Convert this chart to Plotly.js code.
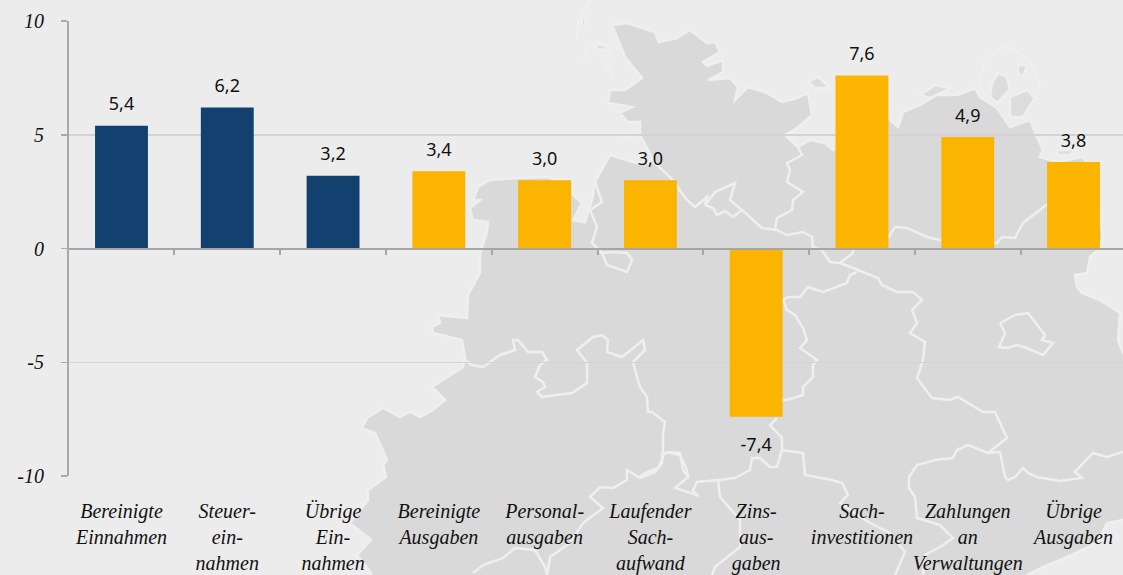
<!DOCTYPE html>
<html><head><meta charset="utf-8">
<script src="https://cdn.plot.ly/plotly-3.0.0.min.js"></script>
<style>html,body{margin:0;padding:0;background:#ececec;overflow:hidden}#c{width:1123px;height:575px}</style>
</head><body><div id="c"></div>
<script>
// ---------- chart data ----------
const categories = ['Bereinigte<br>Einnahmen','Steuer-<br>ein-<br>nahmen','Übrige<br>Ein-<br>nahmen','Bereinigte<br>Ausgaben','Personal-<br>ausgaben','Laufender<br>Sach-<br>aufwand','Zins-<br>aus-<br>gaben','Sach-<br>investitionen','Zahlungen<br>an<br>Verwaltungen','Übrige<br>Ausgaben'];
const values = [5.4,6.2,3.2,3.4,3.0,3.0,-7.4,7.6,4.9,3.8];
const barColors = ['#12406f','#12406f','#12406f','#fbb500','#fbb500','#fbb500','#fbb500','#fbb500','#fbb500','#fbb500'];
const yTicks = [-10,-5,0,5,10];

// ---------- decorative background map (picture pixels) ----------
const land = [[612,25],[627,23],[655,32],[659,42],[677,38],[690,30],[707,43],[715,42],[720,52],[703,62],[707,66],[723,60],[723,72],[708,80],[730,78],[738,87],[735,100],[748,87],[767,93],[782,102],[797,98],[808,93],[812,115],[797,128],[785,135],[798,147],[810,140],[825,143],[833,150],[888,118],[898,127],[903,112],[920,105],[937,95],[957,95],[975,88],[980,97],[997,108],[1010,127],[1030,120],[1037,137],[1043,150],[1040,157],[1057,162],[1083,157],[1092,173],[1100,217],[1103,237],[1100,248],[1090,257],[1087,273],[1075,275],[1077,287],[1082,293],[1100,300],[1120,313],[1118,340],[1123,353],[1130,353],[1130,520],[1123,520],[1107,523],[1097,543],[1067,557],[1043,567],[1027,575],[1027,580],[371,580],[371,573],[357,555],[371,540],[350,523],[368,500],[368,490],[386,477],[383,465],[387,460],[375,433],[362,428],[367,418],[383,408],[400,417],[410,412],[420,417],[433,410],[445,400],[432,387],[463,367],[465,357],[462,340],[433,333],[432,327],[440,323],[438,315],[467,318],[468,295],[480,273],[480,253],[487,232],[488,222],[473,220],[470,208],[480,200],[473,200],[478,187],[490,180],[517,178],[550,177],[571,193],[582,203],[573,220],[585,222],[592,200],[595,182],[610,155],[637,163],[655,163],[640,135],[622,138],[640,135],[640,122],[628,122],[620,113],[632,107],[608,103],[610,90],[625,90],[642,78],[625,57]];
const islands = [[[808,82],[818,77],[830,88],[815,88]],[[992,83],[998,73],[1007,77],[1010,90],[997,103],[990,97]],[[1018,65],[1027,65],[1023,77],[1018,73]],[[1010,97],[1027,90],[1035,98],[1023,117],[1010,117]],[[1057,150],[1077,150],[1070,155],[1057,155]],[[920,95],[935,85],[950,88],[930,98]],[[595,44],[607,46],[605,50],[597,49]],[[582,18],[585,18],[586,26],[582,26]]];
const borders = [
 [[655,163],[670,177],[687,200],[695,207],[707,197],[705,205]],
 [[705,205],[715,192],[735,183],[730,200],[742,210],[733,217],[725,211],[717,215],[713,208],[705,205]],
 [[742,210],[753,220],[762,228],[777,230],[787,235],[803,232],[812,237],[813,247],[822,250],[830,262],[840,263],[853,253],[853,248]],
 [[775,229],[777,218],[792,210],[793,200],[803,192],[787,182],[790,170],[787,163],[802,155],[798,147],[785,135]],
 [[888,238],[895,227],[907,228],[927,237],[940,240],[997,243],[1002,237],[1015,238],[1023,223],[1037,212],[1060,195]],
 [[840,263],[858,270],[878,278],[882,285],[897,292],[913,292],[922,300],[912,310],[917,323],[910,333],[925,342],[923,360],[917,378],[932,398],[950,400],[958,397],[983,412],[995,412],[1000,423],[1007,438],[988,453],[968,445],[957,450],[953,458],[935,460],[917,465],[909,477],[909,488],[915,497],[917,518],[940,525],[953,538],[940,547],[925,555],[923,575]],
 [[988,453],[1000,452],[1005,477],[1008,480],[1015,477],[1023,468],[1028,473],[1037,477],[1060,481],[1082,478],[1075,472],[1093,453],[1107,457],[1123,452]],
 [[1000,323],[1015,315],[1028,313],[1045,335],[1042,340],[1053,343],[1043,355],[1027,348],[1017,345],[1007,348],[999,347],[1005,333],[1000,323]],
 [[857,272],[850,275],[847,283],[823,292],[808,287],[800,297],[788,297],[783,300],[787,310],[795,315],[803,328],[807,340],[800,348],[817,360],[813,365],[813,377],[803,387],[803,395],[787,400],[780,400]],
 [[777,418],[770,425],[782,438],[782,450],[777,467],[770,467],[760,458],[752,458],[750,470],[735,478],[718,480],[697,482],[693,490],[697,495],[675,488],[688,477],[683,470],[680,453],[668,452],[662,455],[662,463],[655,472],[640,478],[627,470],[627,480],[613,488],[600,487],[590,497],[603,508],[583,523],[570,543],[550,557],[547,575]],
 [[782,450],[803,453],[805,475],[832,480],[842,483],[848,495],[840,503],[870,523],[890,533],[905,552],[895,575]],
 [[718,480],[720,497],[740,520],[740,547],[715,567],[712,575]],
 [[463,358],[472,365],[483,367],[500,355],[515,350],[513,340],[518,340],[528,352],[542,352],[547,360],[540,365],[535,377],[543,382],[545,387],[537,392],[542,397],[572,393],[587,383],[587,363],[577,350],[593,337],[602,335],[608,340],[607,352],[622,357],[637,345],[643,340],[645,350],[633,362],[637,377],[640,387],[647,397],[648,412],[652,412],[665,422],[663,433],[663,458],[658,468],[645,473],[638,478]],
 [[663,455],[667,452],[680,455],[687,470],[688,477]],
 [[515,548],[503,558],[483,565],[473,573]],[[515,548],[535,550],[545,567],[547,575]],
 [[595,182],[602,202],[590,210],[597,227],[592,243],[597,248],[602,253],[607,265],[627,272],[632,260],[627,253],[613,252],[602,253]],
 [[590,0],[578,22],[577,40]],[[584,58],[587,46],[597,42],[607,44],[612,58]],[[603,62],[613,75]],
 [[1005,45],[985,60],[980,80],[985,100]],[[1005,45],[1030,60],[1040,85],[1035,100]]
];
const W = 1123, H = 575, mL = 69, mR = 0, mT = 21, mB = 99;
const px = x => (x - mL) / (W - mL - mR);
const py = y => 1 - (y - mT) / (H - mT - mB);
const toPath = (pts, close) => pts.map((p,i)=>(i?'L':'M')+px(p[0]).toFixed(5)+','+py(p[1]).toFixed(5)).join(' ')+(close?' Z':'');
const border = '#efefef';
const shapes = [];
shapes.push({type:'path',xref:'paper',yref:'paper',layer:'below',path:toPath(land,true),fillcolor:'#d9d9d9',line:{color:border,width:2.5}});
islands.forEach(p=>shapes.push({type:'path',xref:'paper',yref:'paper',layer:'below',path:toPath(p,true),fillcolor:'#dcdcdc',line:{color:border,width:2.5}}));
borders.forEach(p=>shapes.push({type:'path',xref:'paper',yref:'paper',layer:'below',path:toPath(p,false),line:{color:border,width:2.5}}));

const labels = values.map(v=>v.toFixed(1).replace('.',','));
const traces = [
 {type:'bar',x:categories,y:values,xaxis:'x2',yaxis:'y',width:0.5,marker:{color:barColors,line:{width:0}},hoverinfo:'skip',showlegend:false},
 {type:'scatter',mode:'markers+text',x:categories,y:values,xaxis:'x',yaxis:'y',text:labels,
  textposition:values.map(v=>v<0?'bottom center':'top center'),
  textfont:{family:'"Noto Sans",sans-serif',size:18,color:'#111'},
  marker:{size:values.map(v=>v<0?32:16),opacity:0},hoverinfo:'skip',showlegend:false,cliponaxis:false}
];
const xRange = [-0.4963,9.4677];
const layout = {
 width:W,height:H,margin:{l:mL,r:mR,t:mT,b:mB,autoexpand:false},
 paper_bgcolor:'#ececec',plot_bgcolor:'rgba(0,0,0,0)',showlegend:false,
 shapes:shapes,
 xaxis:{type:'category',categoryorder:'array',categoryarray:categories,range:xRange,showgrid:false,zeroline:false,showline:false,ticks:'',
  tickangle:0,ticklabelstandoff:21,automargin:false,
  tickfont:{family:'"Liberation Serif",serif',size:20,color:'#111',style:'italic'}},
 xaxis2:{type:'category',categoryorder:'array',categoryarray:categories,range:xRange,overlaying:'x',anchor:'free',position:0.5,side:'bottom',
  showgrid:false,zeroline:false,showline:true,linecolor:'#a6a6a6',linewidth:2.5,ticks:'outside',tickson:'boundaries',ticklen:5,tickwidth:2,tickcolor:'#a6a6a6',showticklabels:false},
 yaxis:{range:[-10,10],tickvals:yTicks,ticktext:yTicks.map(String),showgrid:true,gridcolor:'#d3d3d3',gridwidth:1.5,zeroline:false,
  showline:true,linecolor:'#a9a9a9',linewidth:2,ticks:'outside',ticklen:6,tickwidth:1.5,tickcolor:'#a9a9a9',ticklabelstandoff:13,automargin:false,
  tickfont:{family:'"Liberation Serif",serif',size:20,color:'#111',style:'italic'}}
};
Plotly.newPlot('c',traces,layout,{staticPlot:true,displayModeBar:false});
</script></body></html>
